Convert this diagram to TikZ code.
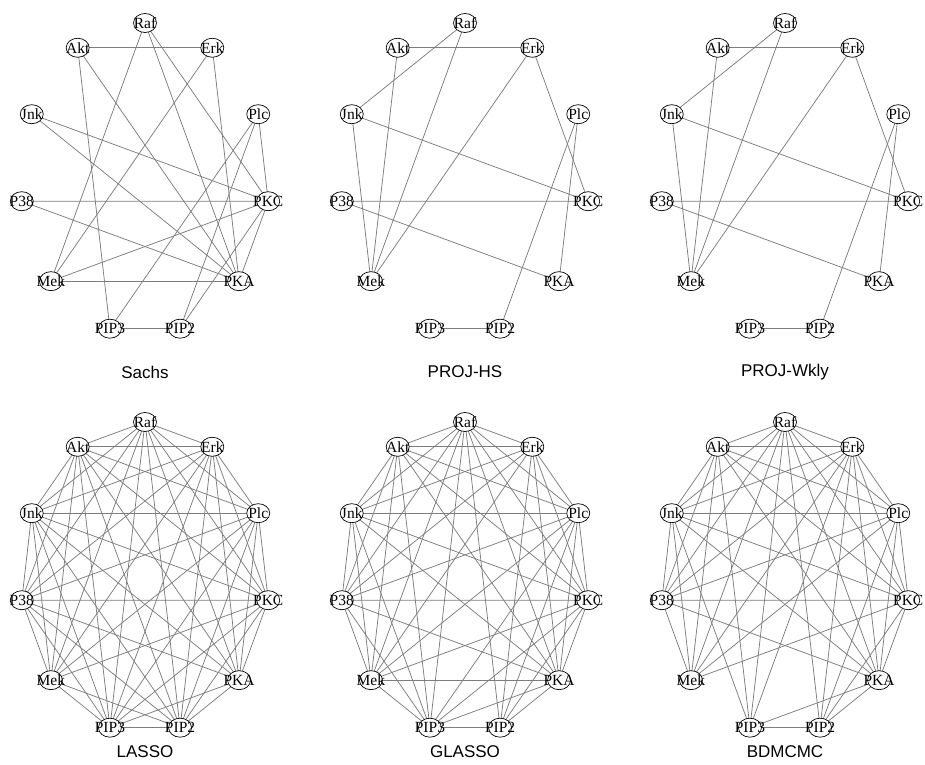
\documentclass[tikz,border=0pt]{standalone}
\usepackage{fontspec}
\setmainfont{Liberation Serif}
\newfontfamily\titlefont{Liberation Sans}
\usetikzlibrary{backgrounds,shapes.geometric}
\definecolor{edgegray}{RGB}{125,125,125}
\tikzset{
  vnode/.style={ellipse, draw=black, line width=0.7pt, fill=white, minimum width=23pt, minimum height=19pt, inner sep=0pt},
  vlabel/.style={inner sep=0pt, font=\fontsize{15.5}{15.5}\selectfont},
  edge/.style={draw=edgegray, line width=0.75pt},
  ptitle/.style={inner sep=0pt, font=\titlefont\fontsize{17}{17}\selectfont}
}
\newcommand\mypanel[6]{%
  \foreach \nm [count=\i from 0] in {Raf,Erk,Plc,PKC,PKA,PIP2,PIP3,Mek,P38,Jnk,Akt} {
    \pgfmathsetmacro\ang{90-\i*360/11}
    \node[vnode] (#1-\nm) at ({#2+124.5*cos(\ang)},{#3-156*sin(\ang)}) {};
    \node[vlabel] at (#1-\nm) {\nm};
  }
  \begin{pgfonlayer}{background}
    \foreach \u/\v in {#6} \draw[edge] (#1-\u.center) -- (#1-\v.center);
  \end{pgfonlayer}
  \node[ptitle] (#1-title) at (#2,#4) {#5};
}
\begin{document}
\begin{tikzpicture}[x=1pt,y=-1pt]
\useasboundingbox (0,0) rectangle (925,764);
\mypanel{a}{145}{179}{372}{Sachs}{Akt/Erk,Raf/Mek,Raf/PKA,Raf/PKC,Akt/PIP3,Akt/PKA,Erk/Mek,Erk/PKA,Jnk/PKC,Jnk/PKA,Plc/PKC,Plc/PIP3,Plc/PIP2,P38/PKC,P38/PKA,PKC/Mek,PKC/PIP2,Mek/PKA,PIP3/PIP2,PKC/PKA}
\mypanel{b}{465}{179}{372}{PROJ-HS}{Akt/Erk,Raf/Jnk,Raf/Mek,Akt/Mek,Erk/Mek,Erk/PKC,Jnk/Mek,Jnk/PKC,Plc/PIP2,Plc/PKA,P38/PKC,P38/PKA,PIP3/PIP2}
\mypanel{c}{785}{179}{372}{PROJ-Wkly}{Akt/Erk,Raf/Jnk,Raf/Mek,Akt/Mek,Erk/Mek,Erk/PKC,Jnk/Mek,Jnk/PKC,Plc/PIP2,Plc/PKA,P38/PKC,P38/PKA,PIP3/PIP2}
\mypanel{d}{145}{578}{752}{LASSO}{Raf/Erk,Raf/Plc,Raf/PKC,Raf/PKA,Raf/PIP2,Raf/PIP3,Raf/Mek,Raf/P38,Raf/Jnk,Raf/Akt,
Erk/Plc,Erk/PKC,Erk/PKA,Erk/PIP2,Erk/PIP3,Erk/Mek,Erk/P38,Erk/Jnk,Erk/Akt,
Plc/PKC,Plc/PKA,Plc/PIP2,Plc/PIP3,Plc/Mek,Plc/P38,Plc/Jnk,Plc/Akt,
PKC/PKA,PKC/PIP2,PKC/PIP3,PKC/Mek,PKC/P38,PKC/Jnk,PKC/Akt,
PKA/PIP2,PKA/PIP3,PKA/P38,PKA/Jnk,PKA/Akt,
PIP2/PIP3,PIP2/Mek,PIP2/P38,PIP2/Jnk,PIP2/Akt,
PIP3/Mek,PIP3/P38,PIP3/Jnk,PIP3/Akt,
Mek/P38,Mek/Jnk,Mek/Akt,
P38/Jnk,P38/Akt,
Jnk/Akt}
\mypanel{e}{465}{578}{752}{GLASSO}{Raf/Erk,Raf/Plc,Raf/PKC,Raf/PKA,Raf/PIP2,Raf/PIP3,Raf/Mek,Raf/P38,Raf/Jnk,Raf/Akt,
Erk/Plc,Erk/PKC,Erk/PKA,Erk/PIP2,Erk/Mek,Erk/P38,Erk/Jnk,Erk/Akt,
Plc/PKC,Plc/PKA,Plc/PIP2,Plc/PIP3,Plc/Mek,Plc/P38,Plc/Jnk,Plc/Akt,
PKC/PKA,PKC/PIP2,PKC/PIP3,PKC/Mek,PKC/P38,PKC/Jnk,PKC/Akt,
PKA/PIP2,PKA/PIP3,PKA/Mek,PKA/P38,PKA/Jnk,PKA/Akt,
PIP2/PIP3,
PIP3/Mek,PIP3/P38,PIP3/Jnk,PIP3/Akt,
Mek/P38,Mek/Jnk,Mek/Akt,
P38/Jnk,P38/Akt,
Jnk/Akt}
\mypanel{f}{785}{578}{752}{BDMCMC}{Raf/Erk,Raf/Plc,Raf/PKC,Raf/PKA,Raf/PIP2,Raf/PIP3,Raf/Mek,Raf/P38,Raf/Jnk,Raf/Akt,
Erk/Plc,Erk/PKC,Erk/PKA,Erk/PIP2,Erk/PIP3,Erk/Mek,Erk/P38,Erk/Jnk,Erk/Akt,
Plc/PKC,Plc/PKA,Plc/PIP2,Plc/Mek,Plc/P38,Plc/Jnk,Plc/Akt,
PKC/PKA,PKC/PIP2,PKC/Mek,PKC/P38,PKC/Jnk,PKC/Akt,
PKA/PIP2,PKA/PIP3,PKA/P38,PKA/Jnk,PKA/Akt,
PIP2/PIP3,
PIP3/Jnk,PIP3/Akt,
Mek/P38,Mek/Jnk,Mek/Akt,
P38/Jnk,P38/Akt,
Jnk/Akt}
\end{tikzpicture}
\end{document}
